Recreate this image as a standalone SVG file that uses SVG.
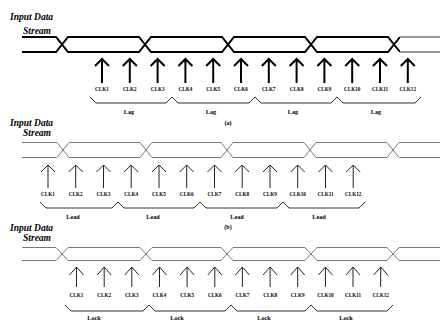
<svg xmlns="http://www.w3.org/2000/svg" width="440" height="322" viewBox="0 0 440 322">
<defs>
<style>
.bg{fill:#fff}
.title{font-family:"Liberation Serif","Times New Roman",serif;font-style:italic;font-weight:bold;font-size:9.5px;fill:#000}
.clk{font-family:"Liberation Serif","Times New Roman",serif;font-weight:bold;font-size:5.2px;fill:#000;text-anchor:middle}
.lbl{font-family:"Liberation Serif","Times New Roman",serif;font-weight:bold;font-size:6.2px;fill:#000;text-anchor:middle}
.dataA{fill:none;stroke:#000;stroke-width:2}
.dataAend{fill:none;stroke:#999;stroke-width:2}
.dataB{fill:none;stroke:#777;stroke-width:1}
.arrA{fill:none;stroke:#000;stroke-width:2}
.arrB{fill:none;stroke:#222;stroke-width:1}
.brace{fill:none;stroke:#333;stroke-width:1}
</style>
</defs>
<rect class="bg" x="0" y="0" width="440" height="322"/>

<!-- Panel (a) -->
<g id="panel-a">
<g id="a-title">
<text class="title" x="10" y="20">Input Data</text>
<text class="title" x="51" y="34" text-anchor="end">Stream</text>
</g>
<g id="a-data">
<path class="dataA" d="M22,37 H56 L68,52 H139 L151,37 H222 L234,52 H305 L317,37 H388 L400,52"/>
<path class="dataA" d="M22,52 H56 L68,37 H139 L151,52 H222 L234,37 H305 L317,52 H388 L400,37"/>
<path class="dataAend" d="M400,52 H440 M400,37 H440"/>
</g>
<g id="a-clocks">
<path class="arrA" d="M102,83 V59 M95,66 L102,59 L109,66"/>
<path class="arrA" d="M129.8,83 V59 M122.8,66 L129.8,59 L136.8,66"/>
<path class="arrA" d="M157.6,83 V59 M150.6,66 L157.6,59 L164.6,66"/>
<path class="arrA" d="M185.4,83 V59 M178.4,66 L185.4,59 L192.4,66"/>
<path class="arrA" d="M213.2,83 V59 M206.2,66 L213.2,59 L220.2,66"/>
<path class="arrA" d="M241,83 V59 M234,66 L241,59 L248,66"/>
<path class="arrA" d="M268.8,83 V59 M261.8,66 L268.8,59 L275.8,66"/>
<path class="arrA" d="M296.6,83 V59 M289.6,66 L296.6,59 L303.6,66"/>
<path class="arrA" d="M324.4,83 V59 M317.4,66 L324.4,59 L331.4,66"/>
<path class="arrA" d="M352.2,83 V59 M345.2,66 L352.2,59 L359.2,66"/>
<path class="arrA" d="M380,83 V59 M373,66 L380,59 L387,66"/>
<path class="arrA" d="M407.8,83 V59 M400.8,66 L407.8,59 L414.8,66"/>
<text class="clk" x="102" y="91">CLK1</text>
<text class="clk" x="129.8" y="91">CLK2</text>
<text class="clk" x="157.6" y="91">CLK3</text>
<text class="clk" x="185.4" y="91">CLK4</text>
<text class="clk" x="213.2" y="91">CLK5</text>
<text class="clk" x="241" y="91">CLK6</text>
<text class="clk" x="268.8" y="91">CLK7</text>
<text class="clk" x="296.6" y="91">CLK8</text>
<text class="clk" x="324.4" y="91">CLK9</text>
<text class="clk" x="352.2" y="91">CLK10</text>
<text class="clk" x="380" y="91">CLK11</text>
<text class="clk" x="407.8" y="91">CLK12</text>
</g>
<g id="a-braces">
<path class="brace" d="M90,97 L96,103 H166 L172,97 L178,103 H249 L255,97 L261,103 H331 L337,97 L343,103 H415 L421,97"/>
<text class="lbl" x="129" y="114">Lag</text>
<text class="lbl" x="211" y="114">Lag</text>
<text class="lbl" x="293" y="114">Lag</text>
<text class="lbl" x="376" y="114">Lag</text>
</g>
<text class="lbl" x="228" y="125">(a)</text>
</g>

<!-- Panel (b) -->
<g id="panel-b">
<g id="b-title">
<text class="title" x="10" y="126">Input Data</text>
<text class="title" x="51" y="136" text-anchor="end">Stream</text>
</g>
<g id="b-data">
<path class="dataB" d="M22,142.5 H57 L69,157.5 H140 L152,142.5 H221 L233,157.5 H304 L316,142.5 H387 L399,157.5 H440"/>
<path class="dataB" d="M22,157.5 H57 L69,142.5 H140 L152,157.5 H221 L233,142.5 H304 L316,157.5 H387 L399,142.5 H440"/>
</g>
<g id="b-clocks">
<path class="arrB" d="M48,188 V165 M41,172 L48,165 L55,172"/>
<path class="arrB" d="M75.7,188 V165 M68.7,172 L75.7,165 L82.7,172"/>
<path class="arrB" d="M103.5,188 V165 M96.5,172 L103.5,165 L110.5,172"/>
<path class="arrB" d="M131.2,188 V165 M124.2,172 L131.2,165 L138.2,172"/>
<path class="arrB" d="M159,188 V165 M152,172 L159,165 L166,172"/>
<path class="arrB" d="M186.7,188 V165 M179.7,172 L186.7,165 L193.7,172"/>
<path class="arrB" d="M214.5,188 V165 M207.5,172 L214.5,165 L221.5,172"/>
<path class="arrB" d="M242.2,188 V165 M235.2,172 L242.2,165 L249.2,172"/>
<path class="arrB" d="M270,188 V165 M263,172 L270,165 L277,172"/>
<path class="arrB" d="M297.7,188 V165 M290.7,172 L297.7,165 L304.7,172"/>
<path class="arrB" d="M325.5,188 V165 M318.5,172 L325.5,165 L332.5,172"/>
<path class="arrB" d="M353.2,188 V165 M346.2,172 L353.2,165 L360.2,172"/>
<text class="clk" x="48" y="195.5">CLK1</text>
<text class="clk" x="75.7" y="195.5">CLK2</text>
<text class="clk" x="103.5" y="195.5">CLK3</text>
<text class="clk" x="131.2" y="195.5">CLK4</text>
<text class="clk" x="159" y="195.5">CLK5</text>
<text class="clk" x="186.7" y="195.5">CLK6</text>
<text class="clk" x="214.5" y="195.5">CLK7</text>
<text class="clk" x="242.2" y="195.5">CLK8</text>
<text class="clk" x="270" y="195.5">CLK9</text>
<text class="clk" x="297.7" y="195.5">CLK10</text>
<text class="clk" x="325.5" y="195.5">CLK11</text>
<text class="clk" x="353.2" y="195.5">CLK12</text>
</g>
<g id="b-braces">
<path class="brace" d="M40,202 L46,208 H112 L118,202 L124,208 H194 L200,202 L206,208 H277 L283,202 L289,208 H359 L365,202"/>
<text class="lbl" x="73" y="219">Lead</text>
<text class="lbl" x="153" y="219">Lead</text>
<text class="lbl" x="237" y="219">Lead</text>
<text class="lbl" x="319" y="219">Lead</text>
</g>
<text class="lbl" x="228" y="229">(b)</text>
</g>

<!-- Panel (c) -->
<g id="panel-c">
<g id="c-title">
<text class="title" x="10" y="231">Input Data</text>
<text class="title" x="51" y="241" text-anchor="end">Stream</text>
</g>
<g id="c-data">
<path class="dataB" d="M22,247.5 H56 L68,260.5 H140 L152,247.5 H221 L233,260.5 H305 L317,247.5 H387 L399,260.5 H440"/>
<path class="dataB" d="M22,260.5 H56 L68,247.5 H140 L152,260.5 H221 L233,247.5 H305 L317,260.5 H387 L399,247.5 H440"/>
</g>
<g id="c-clocks">
<path class="arrB" d="M76.5,287 V267 M69.5,275 L76.5,267 L83.5,275"/>
<path class="arrB" d="M104.2,287 V267 M97.2,275 L104.2,267 L111.2,275"/>
<path class="arrB" d="M131.8,287 V267 M124.8,275 L131.8,267 L138.8,275"/>
<path class="arrB" d="M159.5,287 V267 M152.5,275 L159.5,267 L166.5,275"/>
<path class="arrB" d="M187.1,287 V267 M180.1,275 L187.1,267 L194.1,275"/>
<path class="arrB" d="M214.8,287 V267 M207.8,275 L214.8,267 L221.8,275"/>
<path class="arrB" d="M242.4,287 V267 M235.4,275 L242.4,267 L249.4,275"/>
<path class="arrB" d="M270.1,287 V267 M263.1,275 L270.1,267 L277.1,275"/>
<path class="arrB" d="M297.7,287 V267 M290.7,275 L297.7,267 L304.7,275"/>
<path class="arrB" d="M325.4,287 V267 M318.4,275 L325.4,267 L332.4,275"/>
<path class="arrB" d="M353,287 V267 M346,275 L353,267 L360,275"/>
<path class="arrB" d="M380.7,287 V267 M373.7,275 L380.7,267 L387.7,275"/>
<text class="clk" x="76.5" y="297">CLK1</text>
<text class="clk" x="104.2" y="297">CLK2</text>
<text class="clk" x="131.8" y="297">CLK3</text>
<text class="clk" x="159.5" y="297">CLK4</text>
<text class="clk" x="187.1" y="297">CLK5</text>
<text class="clk" x="214.8" y="297">CLK6</text>
<text class="clk" x="242.4" y="297">CLK7</text>
<text class="clk" x="270.1" y="297">CLK8</text>
<text class="clk" x="297.7" y="297">CLK9</text>
<text class="clk" x="325.4" y="297">CLK10</text>
<text class="clk" x="353" y="297">CLK11</text>
<text class="clk" x="380.7" y="297">CLK12</text>
</g>
<g id="c-braces">
<path class="brace" d="M65,305 L71,311 H143 L149,305 L155,311 H225 L231,305 L237,311 H305 L311,305 L317,311 H387 L393,305"/>
<text class="lbl" x="94" y="320">Lock</text>
<text class="lbl" x="177" y="320">Lock</text>
<text class="lbl" x="264" y="320">Lock</text>
<text class="lbl" x="346" y="320">Lock</text>
</g>
</g>
</svg>
